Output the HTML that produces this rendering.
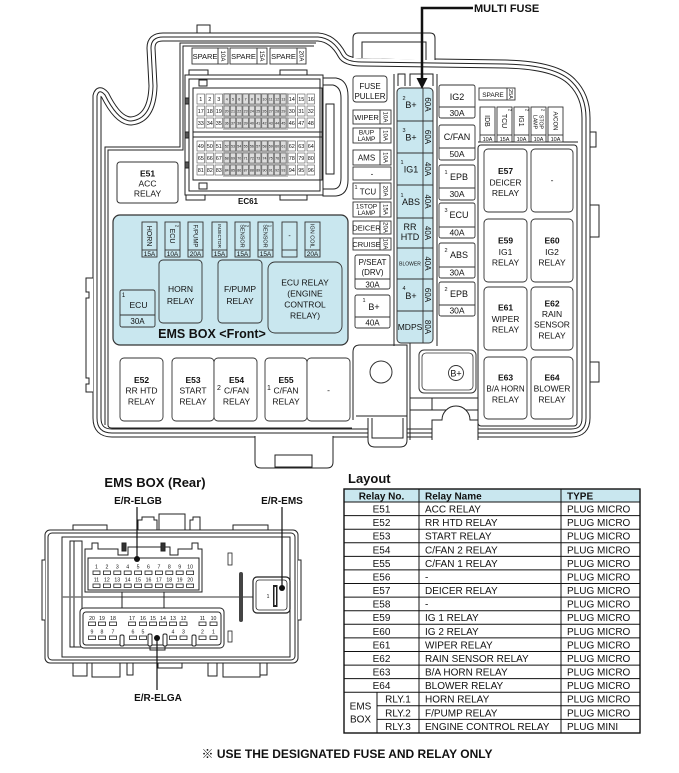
<!DOCTYPE html>
<html><head><meta charset="utf-8"><title>Fuse and relay box layout</title>
<style>
html,body{margin:0;padding:0;background:#fff;width:679px;height:773px;overflow:hidden}
svg{display:block}
text{font-family:"Liberation Sans",Arial,sans-serif;fill:#111}
.b{font-weight:bold}
</style></head><body>
<svg width="679" height="773" viewBox="0 0 679 773" xmlns="http://www.w3.org/2000/svg">

<!-- ===== Outer shell (triple line) ===== -->
<g fill="none" stroke-linejoin="round">
<path d="M97,418 L97,96 Q99,88 105,95 Q118,121 131,121 Q152,119 153,86 L151,48 Q151,37 163,37 L318,37 Q333,38 342,55 Q346,62 362,62 L505,64 Q556,65 572,82 Q586,96 586,118 L586,418 Q586,433 571,433 L112,433 Q97,433 97,418 Z" fill="#fff" stroke="#222" stroke-width="9"/>
<path d="M97,418 L97,96 Q99,88 105,95 Q118,121 131,121 Q152,119 153,86 L151,48 Q151,37 163,37 L318,37 Q333,38 342,55 Q346,62 362,62 L505,64 Q556,65 572,82 Q586,96 586,118 L586,418 Q586,433 571,433 L112,433 Q97,433 97,418 Z" stroke="#fff" stroke-width="7"/>
<path d="M97,418 L97,96 Q99,88 105,95 Q118,121 131,121 Q152,119 153,86 L151,48 Q151,37 163,37 L318,37 Q333,38 342,55 Q346,62 362,62 L505,64 Q556,65 572,82 Q586,96 586,118 L586,418 Q586,433 571,433 L112,433 Q97,433 97,418 Z" stroke="#222" stroke-width="1"/>
</g>

<g fill="none" stroke="#222" stroke-width="1">
<path d="M197,33 L197,25 L210,25 L210,33"/>
<path d="M353,58 L353,38 Q353,33 358,33 L430,33 Q435,33 435,38 L435,60" fill="#fff"/>
<path d="M362,58 L362,42 L426,42 L426,60"/>
<path d="M93,278 L86,278 L86,292 L89,292 L89,298 L86,298 L86,378 L89,378 L89,384 L86,384 L86,392 L93,392" fill="#fff"/>
<rect x="590" y="132" width="6" height="15" fill="#fff"/>
<rect x="590" y="205" width="9" height="32" fill="#fff"/>
<rect x="590" y="362" width="9" height="20" fill="#fff"/>
<path d="M105,425 L105,147 L180,147 L180,43 L316,43"/>
<path d="M108,425 L108,150 L183,150 L183,46 L314,46"/>
<path d="M108,425 Q108,428 112,428 L352,428"/>
<path d="M394,74 L394,346"/>
<path d="M437,74 L437,346"/>
<path d="M398,86 L398,74 L405,74 L405,86"/>
<path d="M410,86 L410,74 L433,74 L433,86"/>
<rect x="478" y="145" width="99" height="281" rx="3"/>
<path d="M478,142 L578,142"/>
<path d="M353,420 L353,352 Q353,345 360,345 L407,345 L407,440"/>
<path d="M410,340 L410,440"/>
<path d="M410,398 L478,398"/>
<path d="M410,410 L478,410"/>
<path d="M432,398 L432,410"/>
<path d="M356,416 L407,416"/>
</g>

<g fill="#fff" stroke="#222" stroke-width="1">
<path d="M255,436 L255,462 Q255,468 261,468 L327,468 Q333,468 333,462 L333,436"/>
<rect x="275" y="455" width="37" height="12" fill="none"/>
<path d="M368,418 L368,440 Q368,447 375,447 L400,447 Q407,447 407,440 L407,418"/>
<path d="M372,418 L372,438 L403,438 L403,418" fill="none"/>
<path d="M432,440 L432,420 L442,420 A14,14 0 0 1 470,420 L478,420 L478,440"/>
</g>

<!-- ===== Top spare fuses ===== -->
<g fill="#fff" stroke="#333" stroke-width="0.9">
<rect x="192" y="48" width="36" height="16"/><line x1="218" y1="48" x2="218" y2="64"/>
<rect x="230" y="48" width="37" height="16"/><line x1="257" y1="48" x2="257" y2="64"/>
<rect x="270" y="48" width="36" height="16"/><line x1="297" y1="48" x2="297" y2="64"/>
</g>
<g font-size="7.5" text-anchor="middle">
<text x="205" y="59">SPARE</text><text x="243.5" y="59">SPARE</text><text x="283.5" y="59">SPARE</text>
</g>
<g font-size="6" text-anchor="middle">
<text transform="translate(223,56) rotate(90)" dy="2">10A</text>
<text transform="translate(262,56) rotate(90)" dy="2">15A</text>
<text transform="translate(301.5,56) rotate(90)" dy="2">20A</text>
</g>

<!-- ===== EC61 connector ===== -->
<g fill="#fff" stroke="#222" stroke-width="1">
<rect x="189" y="70" width="19" height="8"/>
<rect x="280" y="70" width="27" height="8"/>
<rect x="186" y="192" width="19" height="8"/>
<rect x="280" y="192" width="27" height="8"/>
<path d="M323,78 L336,78 Q348,80 348,96 L348,180 Q348,195 336,196 L323,196 Z"/>
<path d="M323,85 L333,85 Q341,87 341,98 L341,178 Q341,189 333,189 L323,189" fill="none"/>
<rect x="185" y="75" width="138" height="120"/>
<rect x="189" y="79" width="131" height="112" fill="none"/>
<rect x="193" y="88" width="129" height="92" fill="none"/>
<rect x="199" y="80" width="8" height="6" fill="none"/>
<rect x="199" y="183" width="8" height="6" fill="none"/>
<rect x="326" y="104" width="8" height="70" fill="none"/>
<line x1="193" y1="132" x2="322" y2="132"/>
<line x1="193" y1="137" x2="322" y2="137"/>
<rect x="185" y="98" width="4" height="6" fill="#555"/>
<rect x="185" y="132" width="4" height="6" fill="#555"/>
<rect x="185" y="162" width="4" height="6" fill="#555"/>
</g>
<rect x="223" y="93" width="65" height="37" fill="#c4c4c4"/>
<rect x="223" y="140" width="65" height="37" fill="#c4c4c4"/>
<g stroke="#555" stroke-width="0.6" fill="#fff">
<g>
<rect x="197" y="94" width="7.5" height="10"/><rect x="206" y="94" width="7.5" height="10"/><rect x="215" y="94" width="7.5" height="10"/>
<rect x="224" y="94" width="5.4" height="10" fill="#ddd"/><rect x="230.3" y="94" width="5.4" height="10" fill="#ddd"/><rect x="236.6" y="94" width="5.4" height="10" fill="#ddd"/><rect x="242.9" y="94" width="5.4" height="10" fill="#ddd"/><rect x="249.2" y="94" width="5.4" height="10" fill="#ddd"/><rect x="255.5" y="94" width="5.4" height="10" fill="#ddd"/><rect x="261.8" y="94" width="5.4" height="10" fill="#ddd"/><rect x="268.1" y="94" width="5.4" height="10" fill="#ddd"/><rect x="274.4" y="94" width="5.4" height="10" fill="#ddd"/><rect x="280.7" y="94" width="5.4" height="10" fill="#ddd"/>
<rect x="288" y="94" width="7.5" height="10"/><rect x="297.5" y="94" width="7.5" height="10"/><rect x="307" y="94" width="7.5" height="10"/>
</g>
<g transform="translate(0,12)">
<rect x="197" y="94" width="7.5" height="10"/><rect x="206" y="94" width="7.5" height="10"/><rect x="215" y="94" width="7.5" height="10"/>
<rect x="224" y="94" width="5.4" height="10" fill="#ddd"/><rect x="230.3" y="94" width="5.4" height="10" fill="#ddd"/><rect x="236.6" y="94" width="5.4" height="10" fill="#ddd"/><rect x="242.9" y="94" width="5.4" height="10" fill="#ddd"/><rect x="249.2" y="94" width="5.4" height="10" fill="#ddd"/><rect x="255.5" y="94" width="5.4" height="10" fill="#ddd"/><rect x="261.8" y="94" width="5.4" height="10" fill="#ddd"/><rect x="268.1" y="94" width="5.4" height="10" fill="#ddd"/><rect x="274.4" y="94" width="5.4" height="10" fill="#ddd"/><rect x="280.7" y="94" width="5.4" height="10" fill="#ddd"/>
<rect x="288" y="94" width="7.5" height="10"/><rect x="297.5" y="94" width="7.5" height="10"/><rect x="307" y="94" width="7.5" height="10"/>
</g>
<g transform="translate(0,24)">
<rect x="197" y="94" width="7.5" height="10"/><rect x="206" y="94" width="7.5" height="10"/><rect x="215" y="94" width="7.5" height="10"/>
<rect x="224" y="94" width="5.4" height="10" fill="#ddd"/><rect x="230.3" y="94" width="5.4" height="10" fill="#ddd"/><rect x="236.6" y="94" width="5.4" height="10" fill="#ddd"/><rect x="242.9" y="94" width="5.4" height="10" fill="#ddd"/><rect x="249.2" y="94" width="5.4" height="10" fill="#ddd"/><rect x="255.5" y="94" width="5.4" height="10" fill="#ddd"/><rect x="261.8" y="94" width="5.4" height="10" fill="#ddd"/><rect x="268.1" y="94" width="5.4" height="10" fill="#ddd"/><rect x="274.4" y="94" width="5.4" height="10" fill="#ddd"/><rect x="280.7" y="94" width="5.4" height="10" fill="#ddd"/>
<rect x="288" y="94" width="7.5" height="10"/><rect x="297.5" y="94" width="7.5" height="10"/><rect x="307" y="94" width="7.5" height="10"/>
</g>
<g transform="translate(0,47)">
<rect x="197" y="94" width="7.5" height="10"/><rect x="206" y="94" width="7.5" height="10"/><rect x="215" y="94" width="7.5" height="10"/>
<rect x="224" y="94" width="5.4" height="10" fill="#ddd"/><rect x="230.3" y="94" width="5.4" height="10" fill="#ddd"/><rect x="236.6" y="94" width="5.4" height="10" fill="#ddd"/><rect x="242.9" y="94" width="5.4" height="10" fill="#ddd"/><rect x="249.2" y="94" width="5.4" height="10" fill="#ddd"/><rect x="255.5" y="94" width="5.4" height="10" fill="#ddd"/><rect x="261.8" y="94" width="5.4" height="10" fill="#ddd"/><rect x="268.1" y="94" width="5.4" height="10" fill="#ddd"/><rect x="274.4" y="94" width="5.4" height="10" fill="#ddd"/><rect x="280.7" y="94" width="5.4" height="10" fill="#ddd"/>
<rect x="288" y="94" width="7.5" height="10"/><rect x="297.5" y="94" width="7.5" height="10"/><rect x="307" y="94" width="7.5" height="10"/>
</g>
<g transform="translate(0,59)">
<rect x="197" y="94" width="7.5" height="10"/><rect x="206" y="94" width="7.5" height="10"/><rect x="215" y="94" width="7.5" height="10"/>
<rect x="224" y="94" width="5.4" height="10" fill="#ddd"/><rect x="230.3" y="94" width="5.4" height="10" fill="#ddd"/><rect x="236.6" y="94" width="5.4" height="10" fill="#ddd"/><rect x="242.9" y="94" width="5.4" height="10" fill="#ddd"/><rect x="249.2" y="94" width="5.4" height="10" fill="#ddd"/><rect x="255.5" y="94" width="5.4" height="10" fill="#ddd"/><rect x="261.8" y="94" width="5.4" height="10" fill="#ddd"/><rect x="268.1" y="94" width="5.4" height="10" fill="#ddd"/><rect x="274.4" y="94" width="5.4" height="10" fill="#ddd"/><rect x="280.7" y="94" width="5.4" height="10" fill="#ddd"/>
<rect x="288" y="94" width="7.5" height="10"/><rect x="297.5" y="94" width="7.5" height="10"/><rect x="307" y="94" width="7.5" height="10"/>
</g>
<g transform="translate(0,71)">
<rect x="197" y="94" width="7.5" height="10"/><rect x="206" y="94" width="7.5" height="10"/><rect x="215" y="94" width="7.5" height="10"/>
<rect x="224" y="94" width="5.4" height="10" fill="#ddd"/><rect x="230.3" y="94" width="5.4" height="10" fill="#ddd"/><rect x="236.6" y="94" width="5.4" height="10" fill="#ddd"/><rect x="242.9" y="94" width="5.4" height="10" fill="#ddd"/><rect x="249.2" y="94" width="5.4" height="10" fill="#ddd"/><rect x="255.5" y="94" width="5.4" height="10" fill="#ddd"/><rect x="261.8" y="94" width="5.4" height="10" fill="#ddd"/><rect x="268.1" y="94" width="5.4" height="10" fill="#ddd"/><rect x="274.4" y="94" width="5.4" height="10" fill="#ddd"/><rect x="280.7" y="94" width="5.4" height="10" fill="#ddd"/>
<rect x="288" y="94" width="7.5" height="10"/><rect x="297.5" y="94" width="7.5" height="10"/><rect x="307" y="94" width="7.5" height="10"/>
</g>
</g>
<g font-size="5.5" text-anchor="middle">
<text x="200.75" y="101">1</text><text x="209.75" y="101">2</text><text x="218.75" y="101">3</text><text x="291.75" y="101">14</text><text x="301.25" y="101">15</text><text x="310.75" y="101">16</text>
<text x="200.75" y="113">17</text><text x="209.75" y="113">18</text><text x="218.75" y="113">19</text><text x="291.75" y="113">30</text><text x="301.25" y="113">31</text><text x="310.75" y="113">32</text>
<text x="200.75" y="125">33</text><text x="209.75" y="125">34</text><text x="218.75" y="125">35</text><text x="291.75" y="125">46</text><text x="301.25" y="125">47</text><text x="310.75" y="125">48</text>
<text x="200.75" y="148">49</text><text x="209.75" y="148">50</text><text x="218.75" y="148">51</text><text x="291.75" y="148">62</text><text x="301.25" y="148">63</text><text x="310.75" y="148">64</text>
<text x="200.75" y="160">65</text><text x="209.75" y="160">66</text><text x="218.75" y="160">67</text><text x="291.75" y="160">78</text><text x="301.25" y="160">79</text><text x="310.75" y="160">80</text>
<text x="200.75" y="172">81</text><text x="209.75" y="172">82</text><text x="218.75" y="172">83</text><text x="291.75" y="172">94</text><text x="301.25" y="172">95</text><text x="310.75" y="172">96</text>
</g>
<g font-size="3.6" text-anchor="middle" fill="#333">
<text x="226.7" y="100.5">4</text><text x="233" y="100.5">5</text><text x="239.3" y="100.5">6</text><text x="245.6" y="100.5">7</text><text x="251.9" y="100.5">8</text><text x="258.2" y="100.5">9</text><text x="264.5" y="100.5">10</text><text x="270.8" y="100.5">11</text><text x="277.1" y="100.5">12</text><text x="283.4" y="100.5">13</text>
<text x="226.7" y="112.5">20</text><text x="233" y="112.5">21</text><text x="239.3" y="112.5">22</text><text x="245.6" y="112.5">23</text><text x="251.9" y="112.5">24</text><text x="258.2" y="112.5">25</text><text x="264.5" y="112.5">26</text><text x="270.8" y="112.5">27</text><text x="277.1" y="112.5">28</text><text x="283.4" y="112.5">29</text>
<text x="226.7" y="124.5">36</text><text x="233" y="124.5">37</text><text x="239.3" y="124.5">38</text><text x="245.6" y="124.5">39</text><text x="251.9" y="124.5">40</text><text x="258.2" y="124.5">41</text><text x="264.5" y="124.5">42</text><text x="270.8" y="124.5">43</text><text x="277.1" y="124.5">44</text><text x="283.4" y="124.5">45</text>
<text x="226.7" y="147.5">52</text><text x="233" y="147.5">53</text><text x="239.3" y="147.5">54</text><text x="245.6" y="147.5">55</text><text x="251.9" y="147.5">56</text><text x="258.2" y="147.5">57</text><text x="264.5" y="147.5">58</text><text x="270.8" y="147.5">59</text><text x="277.1" y="147.5">60</text><text x="283.4" y="147.5">61</text>
<text x="226.7" y="159.5">68</text><text x="233" y="159.5">69</text><text x="239.3" y="159.5">70</text><text x="245.6" y="159.5">71</text><text x="251.9" y="159.5">72</text><text x="258.2" y="159.5">73</text><text x="264.5" y="159.5">74</text><text x="270.8" y="159.5">75</text><text x="277.1" y="159.5">76</text><text x="283.4" y="159.5">77</text>
<text x="226.7" y="171.5">84</text><text x="233" y="171.5">85</text><text x="239.3" y="171.5">86</text><text x="245.6" y="171.5">87</text><text x="251.9" y="171.5">88</text><text x="258.2" y="171.5">89</text><text x="264.5" y="171.5">90</text><text x="270.8" y="171.5">91</text><text x="277.1" y="171.5">92</text><text x="283.4" y="171.5">93</text>
</g>
<text x="248" y="204" font-size="8" class="b" text-anchor="middle">EC61</text>

<!-- ===== E51 ===== -->
<rect x="117" y="162" width="61" height="41" rx="3" fill="#fff" stroke="#333"/>
<g font-size="8.5" text-anchor="middle">
<text x="147.5" y="176.5" class="b">E51</text><text x="147.5" y="186.5">ACC</text><text x="147.5" y="196.5">RELAY</text>
</g>

<!-- ===== EMS BOX front ===== -->
<rect x="113" y="215" width="235" height="130" rx="7" fill="#c9e7ef" stroke="#333" stroke-width="1.2"/>
<g fill="none" stroke="#333" stroke-width="0.9">
<rect x="142" y="222" width="15" height="35"/><line x1="142" y1="250" x2="157" y2="250"/>
<rect x="165" y="222" width="15" height="35"/><line x1="165" y1="250" x2="180" y2="250"/>
<rect x="188" y="222" width="15" height="35"/><line x1="188" y1="250" x2="203" y2="250"/>
<rect x="212" y="222" width="15" height="35"/><line x1="212" y1="250" x2="227" y2="250"/>
<rect x="235" y="222" width="15" height="35"/><line x1="235" y1="250" x2="250" y2="250"/>
<rect x="258" y="222" width="15" height="35"/><line x1="258" y1="250" x2="273" y2="250"/>
<rect x="282" y="222" width="15" height="35"/><line x1="282" y1="250" x2="297" y2="250"/>
<rect x="305" y="222" width="15" height="35"/><line x1="305" y1="250" x2="320" y2="250"/>
<rect x="120" y="290" width="35" height="37" rx="2"/><line x1="120" y1="315" x2="155" y2="315"/>
<rect x="159" y="260" width="43" height="63" rx="4"/>
<rect x="218" y="260" width="44" height="63" rx="4"/>
<rect x="268" y="262" width="74" height="71" rx="7"/>
</g>
<g text-anchor="middle">
<text transform="translate(149.5,236) rotate(90)" dy="2.4" font-size="7">HORN</text>
<text transform="translate(172.5,236) rotate(90)" dy="2.4" font-size="7">ECU</text>
<text transform="translate(195.5,236) rotate(90)" dy="2.1" font-size="6">F/PUMP</text>
<text transform="translate(219.5,236) rotate(90)" dy="1.7" font-size="4.8">INJECTOR</text>
<text transform="translate(242.5,236) rotate(90)" dy="1.9" font-size="5.5">SENSOR</text>
<text transform="translate(265.5,236) rotate(90)" dy="1.9" font-size="5.5">SENSOR</text>
<text x="289.5" y="238" font-size="7">-</text>
<text transform="translate(312.5,236) rotate(90)" dy="1.9" font-size="5.5">IGN COIL</text>
<text transform="translate(177,226) rotate(90)" dy="1.5" font-size="4.5">2</text>
<text transform="translate(247,226) rotate(90)" dy="1.5" font-size="4.5">2</text>
<text transform="translate(270,226) rotate(90)" dy="1.5" font-size="4.5">1</text>
<g font-size="6.5">
<text x="149.5" y="256">15A</text><text x="172.5" y="256">10A</text><text x="195.5" y="256">20A</text><text x="219.5" y="256">15A</text><text x="242.5" y="256">15A</text><text x="265.5" y="256">15A</text><text x="312.5" y="256">20A</text>
</g>
<text x="123.5" y="297" font-size="6">1</text>
<text x="138.5" y="308" font-size="8.5">ECU</text>
<text x="137.5" y="324" font-size="8">30A</text>
<g font-size="8.5">
<text x="180.5" y="292">HORN</text><text x="180.5" y="304">RELAY</text>
<text x="240" y="292">F/PUMP</text><text x="240" y="304">RELAY</text>
<text x="305" y="285.5">ECU RELAY</text><text x="305" y="296.5">(ENGINE</text><text x="305" y="307.5">CONTROL</text><text x="305" y="318.5">RELAY)</text>
</g>
<text x="212" y="338" font-size="12.5" class="b">EMS BOX &lt;Front&gt;</text>
</g>

<!-- ===== Middle column ===== -->
<g fill="#fff" stroke="#333" stroke-width="0.9">
<rect x="353" y="76" width="34" height="26" rx="3"/>
<rect x="353" y="110" width="38" height="14"/><line x1="380" y1="110" x2="380" y2="124"/>
<rect x="353" y="128" width="38" height="15"/><line x1="380" y1="128" x2="380" y2="143"/>
<rect x="353" y="150" width="38" height="15"/><line x1="380" y1="150" x2="380" y2="165"/>
<rect x="353" y="167" width="38" height="13"/>
<rect x="353" y="183" width="38" height="16"/><line x1="380" y1="183" x2="380" y2="199"/>
<rect x="353" y="202" width="38" height="15"/><line x1="380" y1="202" x2="380" y2="217"/>
<rect x="353" y="221" width="38" height="13"/><line x1="380" y1="221" x2="380" y2="234"/>
<rect x="353" y="238" width="38" height="12"/><line x1="380" y1="238" x2="380" y2="250"/>
<rect x="355" y="255" width="35" height="34" rx="2"/><line x1="355" y1="279" x2="390" y2="279"/>
<rect x="355" y="295" width="35" height="33" rx="2"/><line x1="355" y1="317" x2="390" y2="317"/>
</g>
<g text-anchor="middle">
<text x="370" y="89" font-size="8">FUSE</text><text x="370" y="99" font-size="8">PULLER</text>
<text x="366.5" y="120" font-size="7.5">WIPER</text>
<text x="366.5" y="134.5" font-size="6.5">B/UP</text><text x="366.5" y="141" font-size="6.5">LAMP</text>
<text x="366.5" y="160.5" font-size="8">AMS</text>
<text x="372" y="176.5" font-size="8">-</text>
<text x="356" y="189" font-size="5.5">1</text><text x="368" y="194.5" font-size="8">TCU</text>
<text x="366.5" y="208.5" font-size="6.5">1STOP</text><text x="366.5" y="215" font-size="6.5">LAMP</text>
<text x="366.5" y="230.5" font-size="7.5">DEICER</text>
<text x="366.5" y="247" font-size="7.5">CRUISE</text>
<text x="372.5" y="265" font-size="8">P/SEAT</text><text x="372.5" y="275" font-size="8">(DRV)</text>
<text x="372.5" y="287.5" font-size="8">30A</text>
<text x="364" y="302" font-size="5.5">1</text><text x="374" y="310" font-size="9">B+</text>
<text x="372.5" y="325.5" font-size="8">40A</text>
<g font-size="6">
<text transform="translate(385.5,117) rotate(90)" dy="2">10A</text>
<text transform="translate(385.5,135.5) rotate(90)" dy="2">10A</text>
<text transform="translate(385.5,157.5) rotate(90)" dy="2">10A</text>
<text transform="translate(385.5,191) rotate(90)" dy="2">20A</text>
<text transform="translate(385.5,209.5) rotate(90)" dy="2">15A</text>
<text transform="translate(385.5,227.5) rotate(90)" dy="2">20A</text>
<text transform="translate(385.5,244) rotate(90)" dy="2">10A</text>
</g>
</g>

<!-- ===== Multi fuse ===== -->
<rect x="397" y="88" width="36" height="255" rx="4" fill="#c9e7ef" stroke="#333" stroke-width="1"/>
<g stroke="#333" stroke-width="0.9">
<line x1="423" y1="88" x2="423" y2="343"/>
<line x1="397" y1="121" x2="433" y2="121"/><line x1="397" y1="153" x2="433" y2="153"/>
<line x1="397" y1="185" x2="433" y2="185"/><line x1="397" y1="218" x2="433" y2="218"/>
<line x1="397" y1="248" x2="433" y2="248"/><line x1="397" y1="279" x2="433" y2="279"/>
<line x1="397" y1="311" x2="433" y2="311"/>
</g>
<g text-anchor="middle" font-size="9">
<text x="404" y="100" font-size="5.5">2</text><text x="411" y="108">B+</text>
<text x="404" y="132" font-size="5.5">3</text><text x="411" y="140.5">B+</text>
<text x="402" y="164" font-size="5.5">1</text><text x="411" y="172.5">IG1</text>
<text x="402" y="197" font-size="5.5">1</text><text x="411" y="205">ABS</text>
<text x="410" y="230">RR</text><text x="410" y="240">HTD</text>
<text x="410" y="265.5" font-size="5">BLOWER</text>
<text x="404" y="290" font-size="5.5">4</text><text x="411" y="299">B+</text>
<text x="410" y="330" font-size="8.5">MDPS</text>
<g font-size="8">
<text transform="translate(428,104.5) rotate(90)" dy="2.8">60A</text>
<text transform="translate(428,137) rotate(90)" dy="2.8">60A</text>
<text transform="translate(428,169) rotate(90)" dy="2.8">40A</text>
<text transform="translate(428,201.5) rotate(90)" dy="2.8">40A</text>
<text transform="translate(428,233) rotate(90)" dy="2.8">40A</text>
<text transform="translate(428,263.5) rotate(90)" dy="2.8">40A</text>
<text transform="translate(428,295) rotate(90)" dy="2.8">60A</text>
<text transform="translate(428,327) rotate(90)" dy="2.8">80A</text>
</g>
</g>
<path d="M473,8 L422,8 L422,80" fill="none" stroke="#111" stroke-width="2.5"/>
<polygon points="416.5,78 427.5,78 422,89" fill="#111"/>
<text x="474" y="12" font-size="11" class="b">MULTI FUSE</text>

<!-- ===== Right fuse column ===== -->
<g fill="#fff" stroke="#333" stroke-width="0.9">
<rect x="439" y="85" width="36" height="33" rx="2"/><line x1="439" y1="107" x2="475" y2="107"/>
<rect x="439" y="125" width="36" height="35" rx="2"/><line x1="439" y1="148" x2="475" y2="148"/>
<rect x="439" y="165" width="36" height="35" rx="2"/><line x1="439" y1="188" x2="475" y2="188"/>
<rect x="439" y="203" width="36" height="35" rx="2"/><line x1="439" y1="227" x2="475" y2="227"/>
<rect x="439" y="243" width="36" height="35" rx="2"/><line x1="439" y1="267" x2="475" y2="267"/>
<rect x="439" y="282" width="36" height="34" rx="2"/><line x1="439" y1="305" x2="475" y2="305"/>
</g>
<g text-anchor="middle" font-size="9">
<text x="457" y="100">IG2</text><text x="457" y="116" font-size="8.5">30A</text>
<text x="457" y="140">C/FAN</text><text x="457" y="157" font-size="8.5">50A</text>
<text x="446" y="174" font-size="5.5">1</text><text x="459" y="180">EPB</text><text x="457" y="197" font-size="8.5">30A</text>
<text x="446" y="212" font-size="5.5">3</text><text x="459" y="218">ECU</text><text x="457" y="235.5" font-size="8.5">40A</text>
<text x="446" y="252" font-size="5.5">2</text><text x="459" y="258">ABS</text><text x="457" y="275.5" font-size="8.5">30A</text>
<text x="446" y="291" font-size="5.5">2</text><text x="459" y="297">EPB</text><text x="457" y="313.5" font-size="8.5">30A</text>
</g>

<!-- ===== Top right small fuses ===== -->
<g fill="#fff" stroke="#333" stroke-width="0.9">
<rect x="479" y="88" width="36" height="12"/><line x1="507" y1="88" x2="507" y2="100"/>
<rect x="480" y="107" width="15" height="35"/><line x1="480" y1="135" x2="495" y2="135"/>
<rect x="497" y="107" width="15" height="35"/><line x1="497" y1="135" x2="512" y2="135"/>
<rect x="514" y="107" width="15" height="35"/><line x1="514" y1="135" x2="529" y2="135"/>
<rect x="531" y="107" width="15" height="35"/><line x1="531" y1="135" x2="546" y2="135"/>
<rect x="548" y="107" width="15" height="35"/><line x1="548" y1="135" x2="563" y2="135"/>
</g>
<g text-anchor="middle">
<text x="493" y="97" font-size="6.5">SPARE</text>
<text transform="translate(511,94) rotate(90)" dy="1.9" font-size="5.5">25A</text>
<text transform="translate(487.5,121) rotate(90)" dy="2.4" font-size="7">IDB</text>
<text transform="translate(504.5,121) rotate(90)" dy="2.4" font-size="7">TCU</text>
<text transform="translate(521.5,121) rotate(90)" dy="2.4" font-size="7">IG1</text>
<text transform="translate(541.5,122) rotate(90)" dy="1.8" font-size="5.2">STOP</text>
<text transform="translate(535.5,122) rotate(90)" dy="1.8" font-size="5.2">LAMP</text>
<text transform="translate(555.5,121) rotate(90)" dy="2.1" font-size="6">A/CON</text>
<text transform="translate(510,110) rotate(90)" dy="1.5" font-size="4.5">2</text>
<text transform="translate(527,110) rotate(90)" dy="1.5" font-size="4.5">2</text>
<text transform="translate(543,110) rotate(90)" dy="1.5" font-size="4.5">2</text>
<g font-size="5.5">
<text x="487.5" y="141">10A</text><text x="504.5" y="141">15A</text><text x="521.5" y="141">10A</text><text x="538.5" y="141">10A</text><text x="555.5" y="141">10A</text>
</g>
</g>

<!-- ===== Right relays ===== -->
<g fill="#fff" stroke="#333" stroke-width="0.9">
<rect x="484" y="149" width="43" height="63" rx="4"/><rect x="531" y="149" width="42" height="63" rx="4"/>
<rect x="484" y="219" width="43" height="63" rx="4"/><rect x="531" y="219" width="42" height="63" rx="4"/>
<rect x="484" y="287" width="43" height="63" rx="4"/><rect x="531" y="287" width="42" height="63" rx="4"/>
<rect x="484" y="357" width="43" height="62" rx="4"/><rect x="531" y="357" width="42" height="62" rx="4"/>
</g>
<g text-anchor="middle" font-size="8.5">
<text x="505.5" y="174" class="b">E57</text><text x="505.5" y="185.5">DEICER</text><text x="505.5" y="196">RELAY</text>
<text x="552" y="183">-</text>
<text x="505.5" y="243.5" class="b">E59</text><text x="505.5" y="255">IG1</text><text x="505.5" y="265.5">RELAY</text>
<text x="552" y="243.5" class="b">E60</text><text x="552" y="255">IG2</text><text x="552" y="265.5">RELAY</text>
<text x="505.5" y="310.5" class="b">E61</text><text x="505.5" y="322">WIPER</text><text x="505.5" y="332.5">RELAY</text>
<text x="552" y="306.5" class="b">E62</text><text x="552" y="317">RAIN</text><text x="552" y="327.5">SENSOR</text><text x="552" y="338.5">RELAY</text>
<text x="505.5" y="380.5" class="b">E63</text><text x="505.5" y="391.5" font-size="8">B/A HORN</text><text x="505.5" y="402.5">RELAY</text>
<text x="552" y="380.5" class="b">E64</text><text x="552" y="391.5">BLOWER</text><text x="552" y="402.5">RELAY</text>
</g>

<!-- ===== Bottom relays ===== -->
<g fill="#fff" stroke="#333" stroke-width="0.9">
<rect x="120" y="358" width="43" height="63" rx="4"/>
<rect x="172" y="358" width="42" height="63" rx="4"/>
<rect x="214" y="358" width="43" height="63" rx="4"/>
<rect x="265" y="358" width="42" height="63" rx="4"/>
<rect x="307" y="358" width="43" height="63" rx="4"/>
</g>
<g text-anchor="middle" font-size="8.5">
<text x="141.5" y="383" class="b">E52</text><text x="141.5" y="393.5">RR HTD</text><text x="141.5" y="404.5">RELAY</text>
<text x="193" y="383" class="b">E53</text><text x="193" y="393.5">START</text><text x="193" y="404.5">RELAY</text>
<text x="236.5" y="383" class="b">E54</text><text x="236.5" y="393.5">C/FAN</text><text x="236.5" y="404.5">RELAY</text>
<text x="219" y="390" font-size="7">2</text>
<text x="286" y="383" class="b">E55</text><text x="286" y="393.5">C/FAN</text><text x="286" y="404.5">RELAY</text>
<text x="269" y="390" font-size="7">1</text>
<text x="328.5" y="393">-</text>
</g>

<circle cx="381" cy="372" r="11" fill="#fff" stroke="#333" stroke-width="1"/>
<rect x="419" y="350" width="57" height="43" rx="5" fill="#fff" stroke="#333" stroke-width="1"/>
<rect x="422" y="353" width="51" height="37" rx="4" fill="none" stroke="#333" stroke-width="0.8"/>
<circle cx="456" cy="373" r="7.5" fill="#fff" stroke="#333" stroke-width="0.9"/>
<text x="456" y="376.5" font-size="9" text-anchor="middle">B+</text>

<!-- ===== EMS BOX (Rear) ===== -->
<text x="155" y="487" font-size="13" class="b" text-anchor="middle">EMS BOX (Rear)</text>
<g font-size="10" class="b" text-anchor="middle">
<text x="138" y="504">E/R-ELGB</text>
<text x="282" y="504">E/R-EMS</text>
<text x="158" y="701">E/R-ELGA</text>
</g>
<g fill="#fff" stroke="#222" stroke-width="1">
<rect x="73" y="525" width="34" height="6"/>
<path d="M138,531 L138,520 L142,520 L142,517 L154,517 L154,520 L157,520 L157,531"/>
<rect x="159" y="514" width="26" height="17"/>
<path d="M190,531 L190,520 L193,520 L193,517 L200,517 L200,531"/>
<rect x="233" y="525" width="35" height="6"/>
<rect x="73" y="662" width="14" height="14"/>
<rect x="92" y="662" width="28" height="15"/>
<rect x="127" y="662" width="6" height="13"/>
<rect x="158" y="662" width="24" height="6"/>
<rect x="208" y="662" width="9" height="14"/>
<rect x="223" y="662" width="37" height="15"/>
<rect x="260" y="662" width="7" height="13"/>
<rect x="45" y="530" width="253" height="133" rx="5"/>
<rect x="48" y="533" width="247" height="127" rx="4" fill="none"/>
<path d="M45,560 L42,560 L42,620 L45,620" />
<path d="M298,560 L301,560 L301,620 L298,620" />
<path d="M62,537 L290,537 L290,657 L62,657 Z" fill="none"/>
<rect x="70" y="541" width="12" height="106" fill="none"/>
<line x1="74" y1="541" x2="74" y2="647"/>
</g>
<line x1="62" y1="597" x2="290" y2="597" stroke="#777" stroke-width="1.5"/>
<g fill="#fff" stroke="#222" stroke-width="1">
<path d="M85,592 L85,549 L92,549 L92,543 L98,543 L98,549 L118,549 L118,555 L128,555 L128,547 L170,547 L170,555 L178,555 L178,549 L192,549 L192,543 L198,543 L198,549 L202,549 L202,592 Z"/>
<path d="M88,590 L88,558 L199,558 L199,590 Z" fill="none"/>
<rect x="122" y="543" width="4" height="8" fill="#333"/>
<rect x="161" y="543" width="4" height="8" fill="#333"/>
<line x1="122" y1="592" x2="122" y2="608"/>
<line x1="164" y1="592" x2="164" y2="608"/>
</g>
<g fill="#fff" stroke="#222" stroke-width="0.8">
<rect x="93" y="571" width="7" height="3.5"/><rect x="103.4" y="571" width="7" height="3.5"/><rect x="113.8" y="571" width="7" height="3.5"/><rect x="124.2" y="571" width="7" height="3.5"/><rect x="134.6" y="571" width="7" height="3.5"/><rect x="145" y="571" width="7" height="3.5"/><rect x="155.4" y="571" width="7" height="3.5"/><rect x="165.8" y="571" width="7" height="3.5"/><rect x="176.2" y="571" width="7" height="3.5"/><rect x="186.6" y="571" width="7" height="3.5"/>
<rect x="93" y="584" width="7" height="3.5"/><rect x="103.4" y="584" width="7" height="3.5"/><rect x="113.8" y="584" width="7" height="3.5"/><rect x="124.2" y="584" width="7" height="3.5"/><rect x="134.6" y="584" width="7" height="3.5"/><rect x="145" y="584" width="7" height="3.5"/><rect x="155.4" y="584" width="7" height="3.5"/><rect x="165.8" y="584" width="7" height="3.5"/><rect x="176.2" y="584" width="7" height="3.5"/><rect x="186.6" y="584" width="7" height="3.5"/>
</g>
<g font-size="5.2" text-anchor="middle">
<text x="96.5" y="568.5">1</text><text x="106.9" y="568.5">2</text><text x="117.3" y="568.5">3</text><text x="127.7" y="568.5">4</text><text x="138.1" y="568.5">5</text><text x="148.5" y="568.5">6</text><text x="158.9" y="568.5">7</text><text x="169.3" y="568.5">8</text><text x="179.7" y="568.5">9</text><text x="190.1" y="568.5">10</text>
<text x="96.5" y="581.5">11</text><text x="106.9" y="581.5">12</text><text x="117.3" y="581.5">13</text><text x="127.7" y="581.5">14</text><text x="138.1" y="581.5">15</text><text x="148.5" y="581.5">16</text><text x="158.9" y="581.5">17</text><text x="169.3" y="581.5">18</text><text x="179.7" y="581.5">19</text><text x="190.1" y="581.5">20</text>
</g>
<g fill="#fff" stroke="#222" stroke-width="1">
<rect x="80" y="608" width="144" height="40" rx="4"/>
<rect x="83" y="612" width="138" height="33" rx="3" fill="none"/>
<rect x="120" y="635" width="4" height="11" rx="1.5"/>
<rect x="148" y="634" width="4" height="12" rx="1.5"/>
<rect x="163" y="634" width="4" height="12" rx="1.5"/>
<rect x="192" y="635" width="4" height="11" rx="1.5"/>
<path d="M150,646 L150,650 L165,650 L165,646" fill="none"/>
</g>
<g fill="#fff" stroke="#222" stroke-width="0.8">
<rect x="88.5" y="622" width="7" height="3.5"/><rect x="98.5" y="622" width="7" height="3.5"/><rect x="109.5" y="622" width="7" height="3.5"/>
<rect x="128.5" y="622" width="7" height="3.5"/><rect x="139.5" y="622" width="7" height="3.5"/><rect x="149.5" y="622" width="7" height="3.5"/><rect x="159.5" y="622" width="7" height="3.5"/><rect x="169.5" y="622" width="7" height="3.5"/><rect x="180" y="622" width="7" height="3.5"/>
<rect x="199" y="622" width="7" height="3.5"/><rect x="210" y="622" width="7" height="3.5"/>
<rect x="88.5" y="636" width="7" height="3.5"/><rect x="98.5" y="636" width="7" height="3.5"/><rect x="109.5" y="636" width="7" height="3.5"/>
<rect x="129.5" y="636" width="7" height="3.5"/><rect x="139.5" y="636" width="7" height="3.5"/>
<rect x="169.5" y="636" width="7" height="3.5"/><rect x="180" y="636" width="7" height="3.5"/>
<rect x="199" y="636" width="7" height="3.5"/><rect x="210" y="636" width="7" height="3.5"/>
</g>
<g font-size="5.2" text-anchor="middle">
<text x="92" y="620">20</text><text x="102" y="620">19</text><text x="113" y="620">18</text>
<text x="132" y="620">17</text><text x="143" y="620">16</text><text x="153" y="620">15</text><text x="163" y="620">14</text><text x="173" y="620">13</text><text x="183.5" y="620">12</text>
<text x="202.5" y="620">11</text><text x="213.5" y="620">10</text>
<text x="92" y="633.5">9</text><text x="102" y="633.5">8</text><text x="113" y="633.5">7</text>
<text x="133" y="633.5">6</text><text x="143" y="633.5">5</text>
<text x="173" y="633.5">4</text><text x="183.5" y="633.5">3</text>
<text x="202.5" y="633.5">2</text><text x="213.5" y="633.5">1</text>
</g>
<rect x="253" y="577" width="37" height="36" rx="4" fill="#fff" stroke="#222" stroke-width="1.2"/>
<rect x="256" y="580" width="31" height="30" rx="3" fill="none" stroke="#222" stroke-width="0.8"/>
<rect x="273" y="585" width="4.5" height="22" fill="#222"/>
<rect x="274.5" y="587" width="1.5" height="18" fill="#fff"/>
<text x="268" y="598" font-size="5" text-anchor="middle">1</text>
<rect x="239" y="572" width="4" height="50" rx="2" fill="#444"/>
<rect x="228" y="553" width="4" height="12" fill="#fff" stroke="#222" stroke-width="0.8"/>
<rect x="228" y="631" width="4" height="11" fill="#fff" stroke="#222" stroke-width="0.8"/>
<g stroke="#111" stroke-width="1.2">
<line x1="137" y1="507" x2="137" y2="559"/>
<line x1="282" y1="507" x2="282" y2="588"/>
<line x1="157" y1="638" x2="157" y2="690"/>
</g>
<g fill="#111">
<circle cx="137" cy="559" r="3"/><circle cx="282" cy="588" r="3"/><circle cx="157" cy="638" r="3"/>
</g>

<!-- ===== Layout table ===== -->
<text x="348" y="483" font-size="13" class="b">Layout</text>
<rect x="344" y="489" width="296" height="13" fill="#c9e7ef"/>
<g stroke="#111" stroke-width="1" fill="none">
<rect x="344" y="489" width="296" height="244" stroke-width="1.4"/>
<line x1="344" y1="502" x2="640" y2="502"/>
<line x1="344" y1="515.6" x2="640" y2="515.6"/><line x1="344" y1="529.2" x2="640" y2="529.2"/>
<line x1="344" y1="542.8" x2="640" y2="542.8"/><line x1="344" y1="556.4" x2="640" y2="556.4"/>
<line x1="344" y1="569.9" x2="640" y2="569.9"/><line x1="344" y1="583.5" x2="640" y2="583.5"/>
<line x1="344" y1="597.1" x2="640" y2="597.1"/><line x1="344" y1="610.7" x2="640" y2="610.7"/>
<line x1="344" y1="624.3" x2="640" y2="624.3"/><line x1="344" y1="637.9" x2="640" y2="637.9"/>
<line x1="344" y1="651.5" x2="640" y2="651.5"/><line x1="344" y1="665.1" x2="640" y2="665.1"/>
<line x1="344" y1="678.6" x2="640" y2="678.6"/><line x1="344" y1="692.2" x2="640" y2="692.2"/>
<line x1="377" y1="705.8" x2="640" y2="705.8"/><line x1="377" y1="719.4" x2="640" y2="719.4"/>
<line x1="419" y1="489" x2="419" y2="733"/>
<line x1="561" y1="489" x2="561" y2="733"/>
<line x1="377" y1="692.2" x2="377" y2="733"/>
</g>
<g font-size="10" class="b">
<text x="381.5" y="499.5" text-anchor="middle">Relay No.</text>
<text x="425" y="499.5">Relay Name</text>
<text x="567" y="499.5">TYPE</text>
</g>
<g font-size="10">
<g text-anchor="middle">
<text x="381.5" y="512.5">E51</text><text x="381.5" y="526.1">E52</text><text x="381.5" y="539.7">E53</text><text x="381.5" y="553.3">E54</text><text x="381.5" y="566.9">E55</text><text x="381.5" y="580.4">E56</text><text x="381.5" y="594">E57</text><text x="381.5" y="607.6">E58</text><text x="381.5" y="621.2">E59</text><text x="381.5" y="634.8">E60</text><text x="381.5" y="648.4">E61</text><text x="381.5" y="662">E62</text><text x="381.5" y="675.6">E63</text><text x="381.5" y="689.1">E64</text>
<text x="360.5" y="709.5">EMS</text><text x="360.5" y="722.5">BOX</text>
<text x="398" y="702.7">RLY.1</text><text x="398" y="716.3">RLY.2</text><text x="398" y="729.9">RLY.3</text>
</g>
<text x="425" y="512.5">ACC RELAY</text><text x="425" y="526.1">RR HTD RELAY</text><text x="425" y="539.7">START RELAY</text><text x="425" y="553.3">C/FAN 2 RELAY</text><text x="425" y="566.9">C/FAN 1 RELAY</text><text x="425" y="580.4">-</text><text x="425" y="594">DEICER RELAY</text><text x="425" y="607.6">-</text><text x="425" y="621.2">IG 1 RELAY</text><text x="425" y="634.8">IG 2 RELAY</text><text x="425" y="648.4">WIPER RELAY</text><text x="425" y="662">RAIN SENSOR RELAY</text><text x="425" y="675.6">B/A HORN RELAY</text><text x="425" y="689.1">BLOWER RELAY</text><text x="425" y="702.7">HORN RELAY</text><text x="425" y="716.3">F/PUMP RELAY</text><text x="425" y="729.9">ENGINE CONTROL RELAY</text>
<text x="567" y="512.5">PLUG MICRO</text><text x="567" y="526.1">PLUG MICRO</text><text x="567" y="539.7">PLUG MICRO</text><text x="567" y="553.3">PLUG MICRO</text><text x="567" y="566.9">PLUG MICRO</text><text x="567" y="580.4">PLUG MICRO</text><text x="567" y="594">PLUG MICRO</text><text x="567" y="607.6">PLUG MICRO</text><text x="567" y="621.2">PLUG MICRO</text><text x="567" y="634.8">PLUG MICRO</text><text x="567" y="648.4">PLUG MICRO</text><text x="567" y="662">PLUG MICRO</text><text x="567" y="675.6">PLUG MICRO</text><text x="567" y="689.1">PLUG MICRO</text><text x="567" y="702.7">PLUG MICRO</text><text x="567" y="716.3">PLUG MICRO</text><text x="567" y="729.9">PLUG MINI</text>
</g>

<text x="347" y="758" font-size="12" class="b" text-anchor="middle" style="font-family:'Liberation Sans','Noto Sans CJK JP',sans-serif">※ USE THE DESIGNATED FUSE AND RELAY ONLY</text>
</svg>
</body></html>
